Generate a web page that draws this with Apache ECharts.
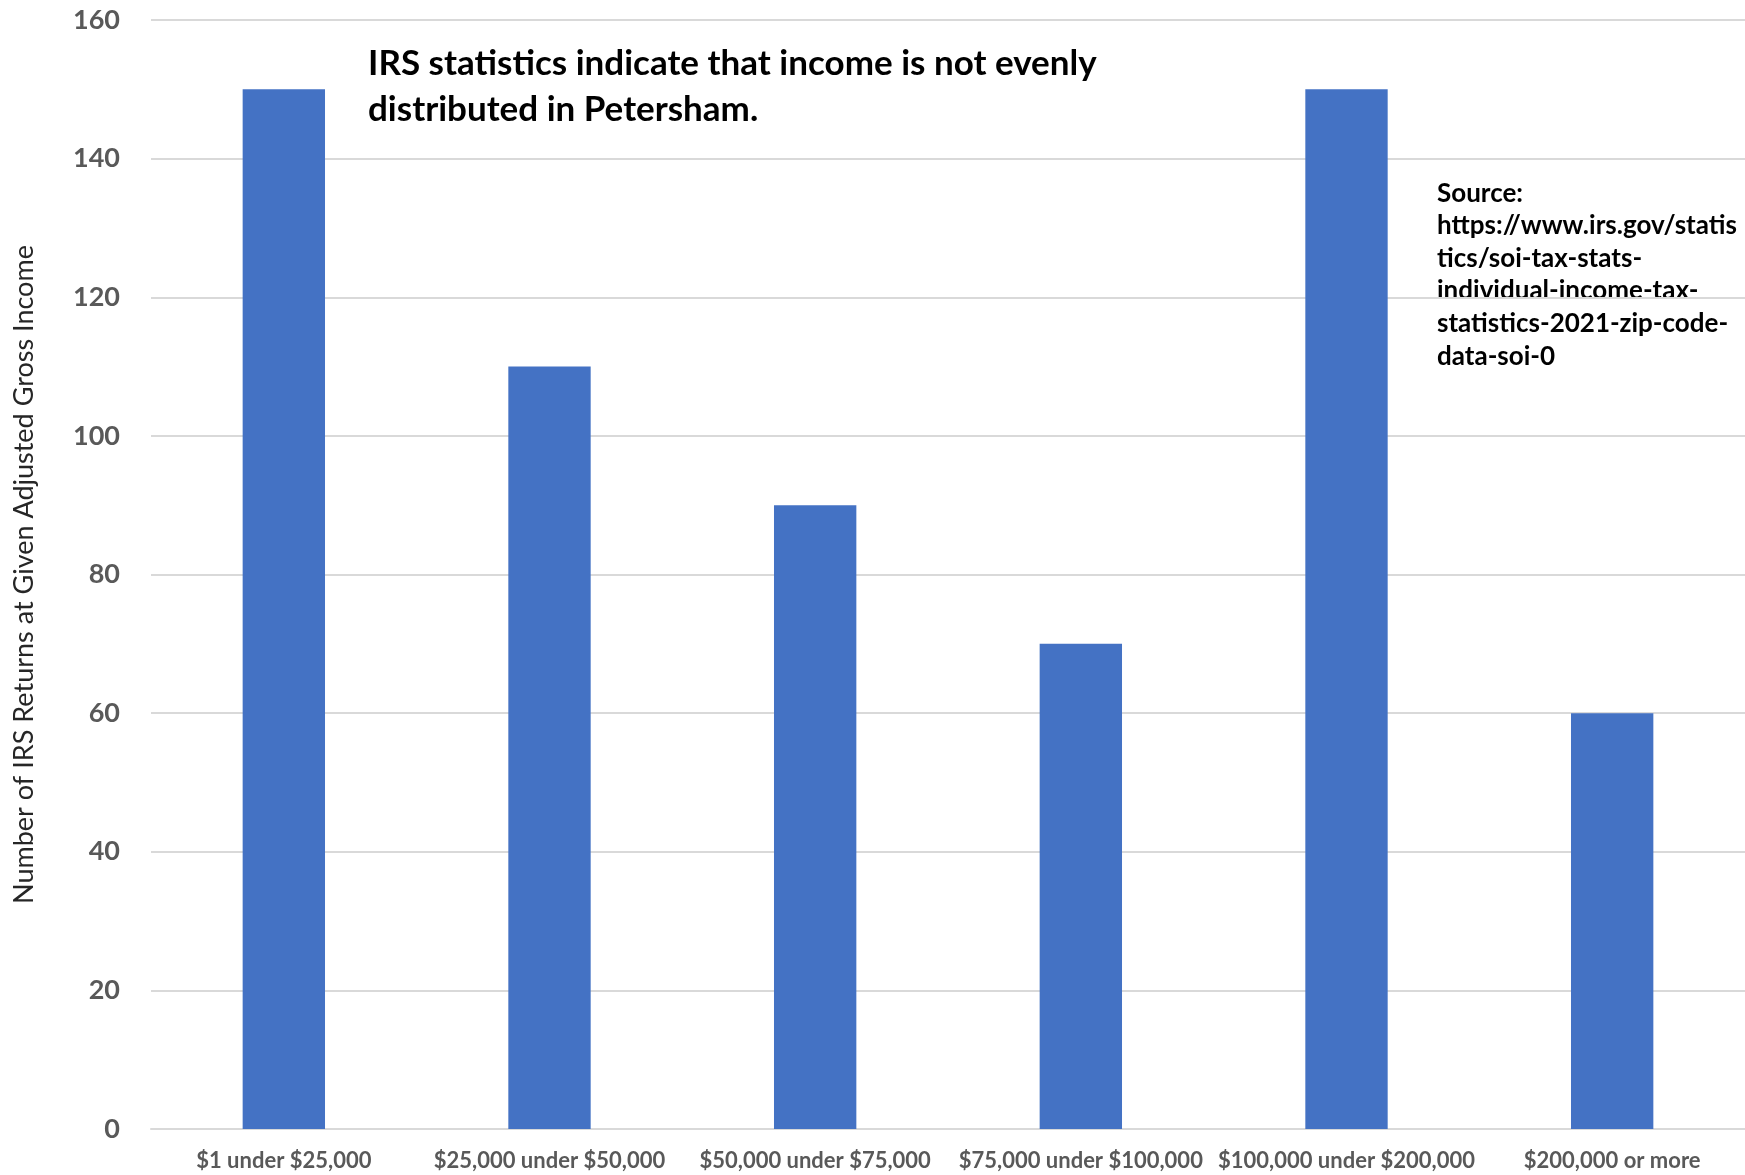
<!DOCTYPE html>
<html>
<head>
<meta charset="utf-8">
<script src="https://cdn.jsdelivr.net/npm/echarts@6/dist/echarts.min.js"></script>
<style>
html,body{margin:0;padding:0;background:#fff;}
#chart{width:1745px;height:1175px;}
</style>
</head>
<body>
<div id="chart"></div>
<script>
const categories = ["$1 under $25,000", "$25,000 under $50,000", "$50,000 under $75,000", "$75,000 under $100,000", "$100,000 under $200,000", "$200,000 or more"];
const returnsCount = [150, 110, 90, 70, 150, 60];
const yTicks = { min: 0, max: 160, interval: 20 };
const yAxisTitle = "Number of IRS Returns at Given Adjusted Gross Income";
const titleLines = ["IRS statistics indicate that income is not evenly", "distributed in Petersham."];
const sourceLines = ["Source:", "https://www.irs.gov/statis", "tics/soi-tax-stats-", "individual-income-tax-", "statistics-2021-zip-code-", "data-soi-0"];

const FONT = "Lato, 'Open Sans', sans-serif";
const chart = echarts.init(document.getElementById('chart'));
chart.setOption({
  animation: false,
  backgroundColor: '#fff',
  grid: { left: 151, right: 0, top: 20, bottom: 46, containLabel: false },
  xAxis: {
    type: 'category',
    data: categories,
    axisTick: { show: false },
    axisLine: { lineStyle: { color: '#d9d9d9', width: 2 } },
    axisLabel: { color: '#595959', fontWeight: 'bold', fontSize: 22, fontFamily: FONT, margin: 21, interval: 0 }
  },
  yAxis: {
    type: 'value',
    min: yTicks.min, max: yTicks.max, interval: yTicks.interval,
    name: yAxisTitle,
    nameLocation: 'middle',
    nameGap: 113,
    nameTextStyle: { color: '#262626', fontSize: 27, fontFamily: FONT },
    axisLine: { show: false },
    axisTick: { show: false },
    splitLine: { lineStyle: { color: '#d9d9d9', width: 2 } },
    axisLabel: { color: '#595959', fontWeight: 'bold', fontSize: 27, fontFamily: FONT, margin: 31 }
  },
  series: [{
    type: 'bar',
    data: returnsCount,
    barWidth: '31%',
    itemStyle: { color: '#4472C4' }
  }],
  graphic: [
    {
      type: 'text', left: 368, top: 41,
      style: { text: titleLines.join('\n'), font: "bold 35px " + FONT, fill: '#000', lineHeight: 46 }
    },
    {
      type: 'text', left: 1437, top: 177,
      style: { text: sourceLines.join('\n'), font: "bold 26px " + FONT, fill: '#000', lineHeight: 32.6 }
    }
  ]
});
</script>
</body>
</html>
